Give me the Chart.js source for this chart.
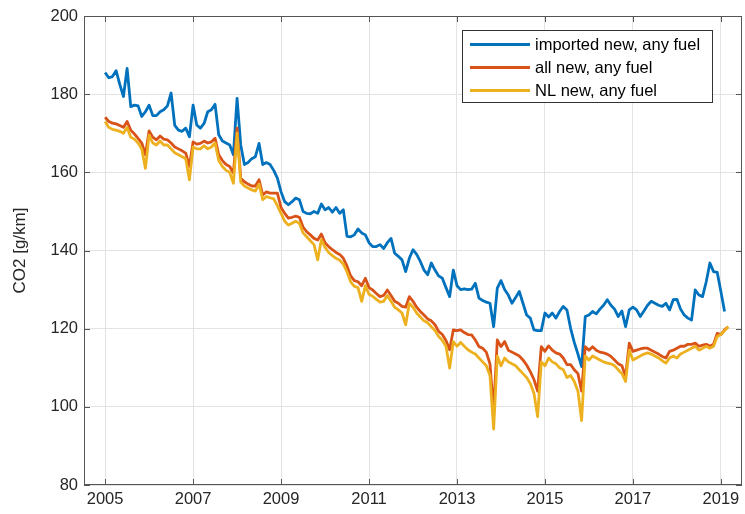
<!DOCTYPE html>
<html>
<head>
<meta charset="utf-8">
<script src="https://cdn.jsdelivr.net/npm/chart.js@4.4.1/dist/chart.umd.min.js"></script>
<style>
  html, body { margin: 0; padding: 0; background: #fff; }
  #wrap { width: 745px; height: 514px; }
</style>
</head>
<body>
<div id="wrap"><canvas id="co2"></canvas></div>
<script>
// monthly values, first month is January 2005
const firstYear = 2005;
const seriesLabels = ['imported new, any fuel', 'all new, any fuel', 'NL new, any fuel'];
const xTickYears = [2005, 2007, 2009, 2011, 2013, 2015, 2017, 2019];
const yMin = 80, yMax = 200, yStep = 20;

const importedNew = [
  185.5, 184.2, 184.5, 186.0, 182.5, 179.4, 186.6, 176.8, 177.2, 177.0, 174.3, 175.5,
  177.2, 174.5, 174.5, 175.5, 176.0, 177.0, 180.3, 172.0, 170.8, 170.5, 171.3, 169.1,
  177.2, 172.1, 171.3, 172.5, 175.5, 176.0, 177.4, 169.6, 168.0, 167.5, 167.0, 164.5,
  178.9, 167.0, 162.0, 162.5, 163.5, 164.0, 167.4, 162.0, 162.5, 162.0, 160.5, 158.5,
  155.0, 152.5, 151.7, 152.5, 153.4, 153.0, 150.0, 149.5, 149.4, 150.0, 149.5, 151.9,
  150.4, 151.0, 149.8, 151.0, 149.5, 150.4, 143.6, 143.5, 144.0, 145.5, 144.5, 144.0,
  142.0, 141.0, 141.0, 141.5, 140.5, 142.0, 143.1, 139.3, 138.5, 137.6, 134.6, 138.0,
  140.2, 139.0, 137.2, 135.0, 133.8, 136.8, 135.0, 133.5, 132.9, 130.5, 128.2, 135.0,
  131.0, 130.0, 130.2, 130.0, 130.1, 131.6, 127.8, 127.2, 126.8, 126.5, 120.5, 130.4,
  132.3, 130.0, 128.6, 126.5, 128.0, 129.5, 126.5, 123.5, 122.7, 119.7, 119.5, 119.5,
  124.0, 123.0, 124.0, 122.7, 124.4, 125.7, 124.8, 120.1, 116.5, 113.5, 110.3, 123.1,
  123.5, 124.4, 123.8, 125.0, 126.0, 127.4, 126.0, 125.0, 123.1, 124.5, 120.5, 124.8,
  125.5, 124.8, 123.1, 124.5, 126.0, 127.0, 126.5, 126.0, 125.7, 126.5, 124.8, 127.4,
  127.5, 125.0, 123.5, 122.7, 122.2, 129.9, 128.6, 128.2, 132.0, 136.8, 134.6, 134.4,
  129.5, 124.4
];

const allNew = [
  174.1, 173.0, 172.6, 172.4, 172.0, 171.5, 173.0, 170.8, 169.8, 168.7, 167.5, 164.5,
  170.6, 169.0, 168.3, 169.3, 168.5, 168.3, 167.5, 166.5, 166.0, 165.5, 164.9, 161.5,
  167.8, 167.2, 167.4, 168.0, 167.5, 167.8, 168.7, 164.5, 163.0, 162.0, 161.5, 159.8,
  171.3, 158.5, 157.6, 157.0, 156.5, 156.5, 158.1, 154.2, 155.0, 154.7, 154.7, 154.7,
  151.0, 149.5, 148.3, 148.5, 148.8, 148.5, 146.0, 144.8, 144.0, 143.1, 142.7, 144.2,
  142.0, 141.0, 140.2, 139.5, 139.0, 138.0, 136.0, 133.5, 132.3, 132.0, 131.0, 132.9,
  130.5, 129.9, 129.0, 128.2, 128.5, 129.9, 128.5, 127.0, 126.5, 125.7, 125.5, 128.2,
  127.0, 125.5, 124.4, 123.5, 122.5, 122.0, 121.0, 119.3, 118.5, 117.0, 114.6, 119.7,
  119.5, 119.7, 119.0, 118.5, 118.4, 117.1, 115.4, 115.0, 114.0, 111.0, 99.0, 117.1,
  115.4, 116.7, 114.5, 114.0, 113.5, 113.0, 112.0, 110.7, 109.0, 107.0, 104.0, 115.4,
  114.2, 115.6, 114.5, 113.8, 113.5, 112.5, 110.8, 110.8, 109.5, 108.5, 104.0, 115.4,
  114.5, 115.4, 114.5, 114.0, 113.8, 113.5, 112.9, 112.0, 111.0, 110.5, 107.8, 116.3,
  114.2, 114.5, 114.8, 115.0, 115.0, 114.5, 114.0, 113.5, 112.9, 112.5, 114.2, 114.5,
  115.0, 115.5, 115.5, 116.0, 116.0, 116.3, 115.5, 115.8, 116.0, 115.5, 116.0, 118.8,
  118.5, 119.7, 120.5
];

const nlNew = [
  173.0, 171.5, 171.0, 170.8, 170.5, 170.0, 171.5, 169.0, 168.5, 167.5, 166.0, 161.0,
  169.5, 167.5, 167.0, 168.0, 167.0, 167.0, 166.0, 165.0, 164.5, 164.0, 163.5, 158.1,
  166.5, 166.0, 166.0, 166.8, 166.0, 166.5, 167.5, 163.0, 161.5, 160.5, 160.0, 157.2,
  170.0, 157.5, 156.5, 156.0, 155.5, 155.2, 157.0, 153.0, 153.8, 153.5, 153.2, 151.5,
  149.5, 147.5, 146.5, 147.0, 147.5, 147.0, 144.5, 143.5, 142.5, 141.5, 137.6, 142.8,
  140.8, 139.5, 138.7, 138.0, 137.5, 136.5, 134.5, 132.0, 130.8, 130.5, 127.0, 131.0,
  128.8, 128.3, 127.5, 126.8, 127.0, 128.5, 127.0, 125.5, 124.8, 124.0, 121.0, 126.5,
  125.5, 124.0, 123.0, 122.0, 121.5, 120.5, 119.5, 118.0, 117.0, 115.5, 109.9, 116.7,
  115.5, 116.5, 115.5, 114.6, 114.0, 113.5, 112.5, 111.5, 110.5, 108.0, 94.3, 113.0,
  110.5, 112.5, 111.5, 111.0, 110.5, 109.5, 108.5, 107.5, 106.0, 103.5, 97.5, 111.5,
  110.5, 112.5, 111.5, 111.0, 110.0, 109.5, 107.5, 108.0, 106.5, 104.0, 96.5, 113.0,
  112.0, 113.0, 112.5, 112.0, 111.5, 111.2, 111.0, 110.5, 109.5, 108.5, 106.5, 114.5,
  112.0, 112.5, 113.0, 113.5, 113.8, 113.5, 113.0, 112.5, 111.8, 111.2, 112.5, 113.0,
  112.5, 113.5, 114.0, 114.5, 115.0, 115.5, 114.5, 115.0, 115.5, 115.0, 115.5, 118.0,
  118.5, 119.5, 120.5
];

const colors = ['#0072BD', '#D95319', '#EDB120'];
const fontFamily = '"Liberation Sans", Arial, Helvetica, sans-serif';
const textColor = '#262626';

function toPoints(values) {
  return values.map((v, i) => ({ x: firstYear + i / 12, y: v }));
}

// matlab style box, inner tick marks and the legend on top of the lines
const axesBox = {
  id: 'axesBox',
  afterDatasetsDraw(chart) {
    const ctx = chart.ctx;
    const area = chart.chartArea;
    const xs = chart.scales.x, ys = chart.scales.y;
    ctx.save();
    ctx.strokeStyle = '#555';
    ctx.lineWidth = 1;
    ctx.strokeRect(area.left + 0.5, area.top + 0.5, area.right - area.left - 1, area.bottom - area.top - 1);
    ctx.beginPath();
    xTickYears.forEach(yr => {
      const px = Math.round(xs.getPixelForValue(yr)) + 0.5;
      ctx.moveTo(px, area.bottom); ctx.lineTo(px, area.bottom - 6);
      ctx.moveTo(px, area.top); ctx.lineTo(px, area.top + 6);
    });
    for (let v = yMin; v <= yMax; v += yStep) {
      const py = Math.round(ys.getPixelForValue(v)) + 0.5;
      ctx.moveTo(area.left, py); ctx.lineTo(area.left + 6, py);
      ctx.moveTo(area.right, py); ctx.lineTo(area.right - 6, py);
    }
    ctx.stroke();

    // legend
    const bx = 462, by = 30, bw = 250, bh = 72;
    ctx.fillStyle = '#fff';
    ctx.fillRect(bx, by, bw, bh);
    ctx.strokeStyle = '#333';
    ctx.strokeRect(bx + 0.5, by + 0.5, bw, bh);
    ctx.font = '16.5px ' + fontFamily;
    ctx.textBaseline = 'middle';
    chart.data.datasets.forEach((ds, i) => {
      const cy = by + 14.5 + i * 23;
      ctx.strokeStyle = ds.borderColor;
      ctx.lineWidth = 2.8;
      ctx.beginPath();
      ctx.moveTo(bx + 8, cy); ctx.lineTo(bx + 68, cy);
      ctx.stroke();
      ctx.fillStyle = '#000';
      ctx.fillText(ds.label, bx + 73, cy + 1);
    });
    ctx.restore();
  }
};

new Chart(document.getElementById('co2'), {
  type: 'line',
  data: {
    datasets: [
      { label: seriesLabels[0], data: toPoints(importedNew), borderColor: colors[0], order: 2 },
      { label: seriesLabels[1], data: toPoints(allNew), borderColor: colors[1], order: 1 },
      { label: seriesLabels[2], data: toPoints(nlNew), borderColor: colors[2], order: 0 }
    ]
  },
  options: {
    responsive: true,
    maintainAspectRatio: false,
    animation: false,
    devicePixelRatio: 1,
    layout: { padding: { left: 0, right: 3, top: 16, bottom: 0 } },
    elements: {
      line: { borderWidth: 2.8, tension: 0, fill: false, borderJoinStyle: 'round' },
      point: { radius: 0, hoverRadius: 0 }
    },
    plugins: {
      legend: { display: false },
      tooltip: { enabled: false }
    },
    scales: {
      x: {
        type: 'linear',
        min: 2004.52,
        max: 2019.48,
        afterFit: s => { s.height = 29; },
        afterBuildTicks: s => { s.ticks = xTickYears.map(v => ({ value: v })); },
        grid: { color: '#e3e3e3', drawTicks: false },
        border: { display: false },
        ticks: {
          padding: 5,
          color: textColor,
          font: { family: fontFamily, size: 16.5 },
          maxRotation: 0,
          callback: v => String(v)
        }
      },
      y: {
        min: yMin,
        max: yMax,
        afterFit: s => { s.width = 84; },
        grid: { color: '#e3e3e3', drawTicks: false },
        border: { display: false },
        ticks: {
          stepSize: yStep,
          padding: 6,
          color: textColor,
          font: { family: fontFamily, size: 16.5 }
        },
        title: {
          display: true,
          text: 'CO2 [g/km]',
          color: textColor,
          font: { family: fontFamily, size: 17 },
          padding: { top: 10, bottom: 0 }
        }
      }
    }
  },
  plugins: [axesBox]
});
</script>
</body>
</html>
